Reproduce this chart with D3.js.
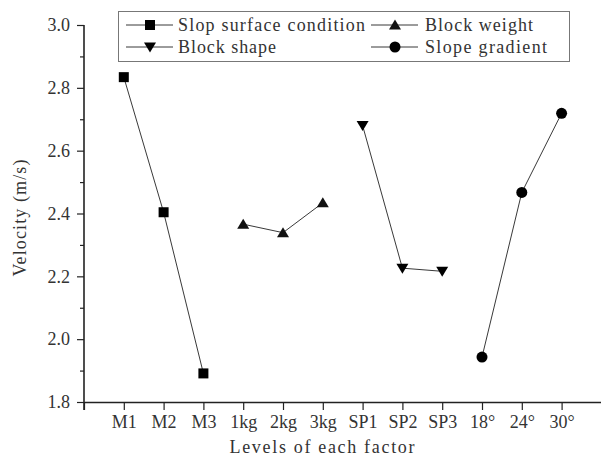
<!DOCTYPE html>
<html>
<head>
<meta charset="utf-8">
<script src="https://cdn.jsdelivr.net/npm/d3@7"></script>
<style>
  body { margin: 0; background: #fff; }
</style>
</head>
<body>
<svg id="chart" width="601" height="457"></svg>
<script>
const levels = ["M1", "M2", "M3", "1kg", "2kg", "3kg", "SP1", "SP2", "SP3", "18°", "24°", "30°"];
const seriesNames = ["Slop surface condition", "Block weight", "Block shape", "Slope gradient"];
const surfaceVals = [2.834, 2.404, 1.891];
const weightVals = [2.366, 2.339, 2.434];
const shapeVals = [2.680, 2.226, 2.216];
const gradientVals = [1.943, 2.467, 2.719];
const yTicks = [1.8, 2.0, 2.2, 2.4, 2.6, 2.8, 3.0];

const series = [
  { name: seriesNames[0], levels: levels.slice(0, 3), values: surfaceVals, symbol: "square" },
  { name: seriesNames[1], levels: levels.slice(3, 6), values: weightVals, symbol: "up" },
  { name: seriesNames[2], levels: levels.slice(6, 9), values: shapeVals, symbol: "down" },
  { name: seriesNames[3], levels: levels.slice(9, 12), values: gradientVals, symbol: "circle" },
];

const FONT = "Liberation Serif";
// text is set at 20px and scaled down to 18px
const FS = 20;
const K = 0.9;
const margin = { left: 84, top: 25 };

const svg = d3.select("#chart");

//scales
const x = d3.scaleLinear().domain([0, 13]).range([margin.left, margin.left + 13 * 39.8]);
const xPos = (lv) => x(levels.indexOf(lv) + 1);
const y = d3.scaleLinear().domain([1.8, 3.0]).range([402, margin.top]);

//axes
const gx = svg.append("g")
  .attr("transform", `translate(0,${y(1.8)})`)
  .call(d3.axisBottom(x)
    .tickValues(d3.range(0, 13))
    .tickSize(8)
    .tickSizeOuter(0)
    .tickFormat((d) => (d === 0 ? "" : levels[d - 1])));
gx.attr("font-family", FONT).attr("font-size", FS);
gx.select(".domain").attr("stroke", "#222").attr("stroke-width", 1.6);
gx.selectAll(".tick line").attr("stroke", "#222").attr("stroke-width", 1.2);
gx.selectAll(".tick text")
  .attr("font-family", FONT)
  .attr("font-size", FS)
  .attr("y", 13 / K)
  .attr("transform", `scale(${K})`)
  .attr("fill", "#333");

const gyMinor = svg.append("g")
  .attr("transform", `translate(${margin.left},0)`)
  .call(d3.axisLeft(y)
    .tickValues(d3.range(1.9, 3.0, 0.2))
    .tickSize(4)
    .tickFormat(""));
gyMinor.select(".domain").remove();
gyMinor.selectAll(".tick text").remove();
gyMinor.selectAll(".tick line").attr("stroke", "#222").attr("stroke-width", 1.2);

const gy = svg.append("g")
  .attr("transform", `translate(${margin.left},0)`)
  .call(d3.axisLeft(y)
    .tickValues(yTicks)
    .tickSize(7)
    .tickSizeOuter(0)
    .tickFormat(d3.format(".1f")));
gy.attr("font-family", FONT).attr("font-size", FS);
gy.select(".domain")
  .attr("d", `M0,${y(3.0)}V${y(1.8) + 8}`)
  .attr("stroke", "#222")
  .attr("stroke-width", 1.6);
gy.selectAll(".tick line").attr("stroke", "#222").attr("stroke-width", 1.2);
gy.selectAll(".tick text")
  .attr("font-family", FONT)
  .attr("font-size", FS)
  .attr("x", -14 / K)
  .attr("transform", `scale(${K})`)
  .attr("fill", "#333");

//axis titles
svg.append("text")
  .attr("transform", `translate(322,453) scale(${K})`)
  .attr("text-anchor", "middle")
  .attr("font-family", FONT)
  .attr("font-size", FS)
  .attr("textLength", 185 / K)
  .attr("lengthAdjust", "spacing")
  .attr("fill", "#333")
  .text("Levels of each factor");

svg.append("text")
  .attr("transform", `translate(26,218) rotate(-90) scale(${K})`)
  .attr("text-anchor", "middle")
  .attr("font-family", FONT)
  .attr("font-size", FS)
  .attr("textLength", 117 / K)
  .attr("lengthAdjust", "spacing")
  .attr("fill", "#333")
  .text("Velocity (m/s)");

//markers
function marker(g, symbol) {
  if (symbol === "square") {
    g.append("rect").attr("x", -5).attr("y", -5).attr("width", 10).attr("height", 10).attr("fill", "#000");
  } else if (symbol === "circle") {
    g.append("circle").attr("r", 5.5).attr("fill", "#000");
  } else if (symbol === "up") {
    g.append("path").attr("d", "M0,-5.5L6,4.5L-6,4.5Z").attr("fill", "#111");
  } else {
    g.append("path").attr("d", "M0,5.5L6,-4.5L-6,-4.5Z").attr("fill", "#000");
  }
}

const line = d3.line()
  .x((d) => xPos(d.level))
  .y((d) => y(d.value));

const gSeries = svg.selectAll("g.series")
  .data(series)
  .join("g")
  .attr("class", "series");

gSeries.each(function (s) {
  const pts = s.levels.map((l, i) => ({ level: l, value: s.values[i] }));
  d3.select(this).append("path")
    .attr("d", line(pts))
    .attr("fill", "none")
    .attr("stroke", "#222")
    .attr("stroke-width", 0.9);
  pts.forEach((p) => {
    d3.select(this).append("g")
      .attr("transform", `translate(${xPos(p.level)},${y(p.value)})`)
      .call(marker, s.symbol);
  });
});

//legend
const legend = svg.append("g");
legend.append("rect")
  .attr("x", 118.5)
  .attr("y", 11.5)
  .attr("width", 451)
  .attr("height", 50)
  .attr("fill", "#fff")
  .attr("stroke", "#777")
  .attr("stroke-width", 1);

const legendPos = [
  { x: 126, y: 25, w: 187 },
  { x: 371, y: 25, w: 108 },
  { x: 126, y: 47, w: 98 },
  { x: 371, y: 47, w: 122 },
];

series.forEach((s, i) => {
  const p = legendPos[i];
  const g = legend.append("g").attr("transform", `translate(${p.x},${p.y})`);
  g.append("line").attr("x1", 0).attr("x2", 47).attr("stroke", "#222").attr("stroke-width", 0.9);
  g.append("g").attr("transform", "translate(24,0)").call(marker, s.symbol);
  g.append("text")
    .attr("transform", `translate(${i % 2 === 0 ? 52 : 54},0) scale(${K})`)
    .attr("dy", "0.35em")
    .attr("font-family", FONT)
    .attr("font-size", FS)
    .attr("textLength", p.w / K)
    .attr("lengthAdjust", "spacing")
    .attr("fill", "#333")
    .text(s.name);
});
</script>
</body>
</html>
